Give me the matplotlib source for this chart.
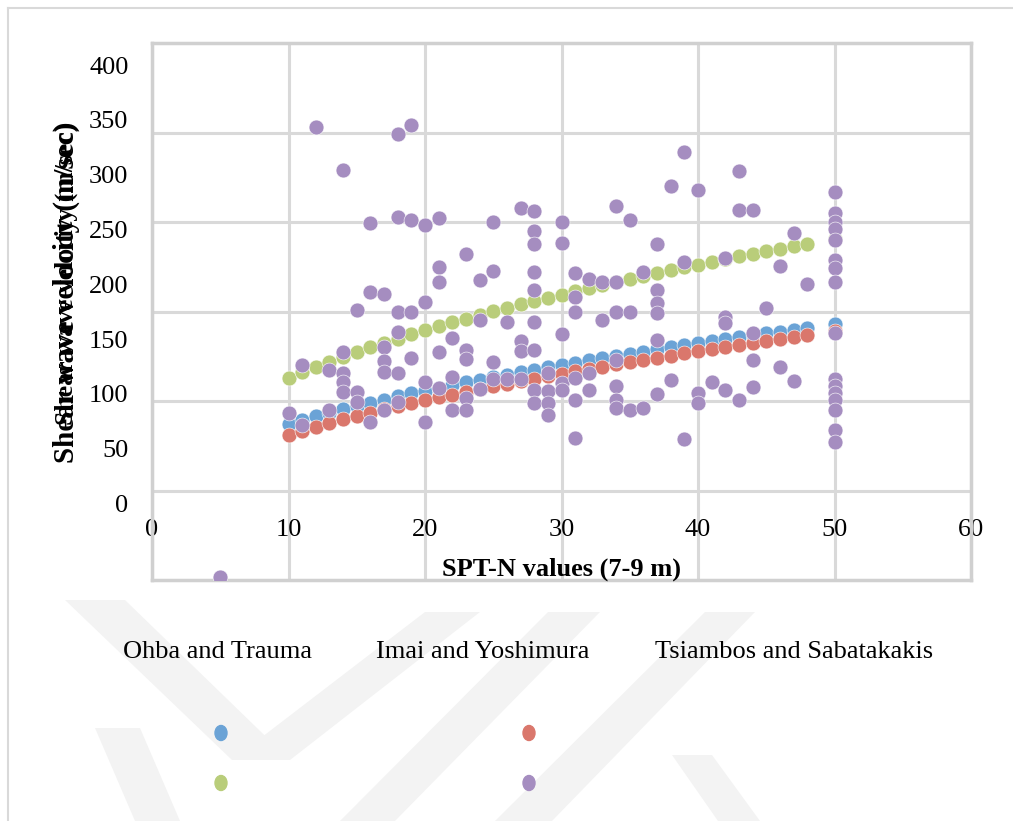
import matplotlib
matplotlib.use("Agg")
import matplotlib.pyplot as plt
from matplotlib.patches import Ellipse, Polygon
from matplotlib.lines import Line2D

# ------ correlation curves, Vs (m/sec) against SPT-N
n_curve = [10, 11, 12, 13, 14, 15, 16, 17, 18, 19, 20, 21, 22, 23, 24, 25, 26, 27, 28, 29,
           30, 31, 32, 33, 34, 35, 36, 37, 38, 39, 40, 41, 42, 43, 44, 45, 46, 47, 48, 50]
vs_ohba = [72.6, 76.2, 79.6, 82.9, 86.1, 89.1, 92.1, 94.9, 97.7, 100.4, 103.1, 105.6, 108.1,
           110.6, 113.0, 115.3, 117.7, 119.9, 122.2, 124.3, 126.5, 128.6, 130.7, 132.7, 134.7,
           136.7, 138.7, 140.6, 142.5, 144.4, 146.2, 148.1, 149.9, 151.7, 153.5, 155.2, 156.9,
           158.7, 160.4, 163.7]
vs_imai = [62.9, 66.6, 70.1, 73.4, 76.7, 79.8, 82.9, 85.8, 88.6, 91.4, 94.2, 96.8, 99.4,
           101.9, 104.4, 106.8, 109.3, 111.6, 113.9, 116.1, 118.4, 120.6, 122.8, 124.8, 126.9,
           129.0, 131.1, 133.1, 135.0, 137.0, 138.9, 140.9, 142.8, 144.6, 146.5, 148.3, 150.1,
           152.0, 153.7, 157.1]
vs_tsiambos = [114.6, 119.8, 124.7, 129.4, 134.0, 138.3, 142.5, 146.6, 150.5, 154.3, 158.0,
               161.7, 165.2, 168.7, 172.0, 175.3, 178.5, 181.7, 184.7, 187.8, 190.7, 193.7,
               196.5, 199.4, 202.2, 204.9, 207.6, 210.2, 212.8, 215.4, 218.0, 220.5, 223.0,
               225.4, 227.8, 230.2, 232.5, 234.9, 237.2, 241.7]

# ------ measured values (one line per N)
n_meas = ([5] + [10] + [11] * 2 + [12] + [13] * 2 + [14] * 5 + [15] * 3 + [16] * 3 + [17] * 5
          + [18] * 6 + [19] * 4 + [20] * 4 + [21] * 5 + [22] * 3 + [23] * 5 + [24] * 3
          + [25] * 4 + [26] * 2 + [27] * 4 + [28] * 9 + [29] * 4 + [30] * 5 + [31] * 6
          + [32] * 3 + [33] * 2 + [34] * 7 + [35] * 3 + [36] * 2 + [37] * 6 + [38] * 2
          + [39] * 3 + [40] * 3 + [41] + [42] * 4 + [43] * 3 + [44] * 4 + [45] + [46] * 2
          + [47] * 2 + [48] + [50] * 16)
vs_meas = [
    -67.0,
    82.6,
    126.4, 71.6,
    343.8,
    121.5, 85.0,
    304.3, 138.5, 118.8, 111.0, 102.0,
    176.5, 102.0, 93.0,
    255.7, 193.2, 74.6,
    191.0, 143.1, 130.0, 120.0, 85.3,
    336.9, 261.1, 175.0, 156.8, 118.8, 92.9,
    345.3, 258.7, 175.0, 132.5,
    254.1, 184.0, 111.1, 74.6,
    260.2, 216.0, 202.0, 138.5, 105.0,
    150.7, 115.0, 85.3,
    227.4, 140.0, 132.0, 96.0, 85.3,
    203.9, 167.4, 104.4,
    257.1, 212.4, 129.4, 113.5,
    165.5, 113.5,
    269.3, 148.4, 139.3, 114.0,
    267.0, 249.0, 237.0, 211.0, 195.0, 165.5, 140.1, 103.6, 91.4,
    119.5, 103.0, 91.4, 80.7,
    257.0, 238.0, 155.0, 110.0, 104.0,
    210.0, 188.0, 175.0, 114.2, 94.4, 59.5,
    205.0, 118.8, 103.6,
    202.4, 167.4,
    271.4, 202.4, 174.3, 130.9, 107.5, 94.4, 86.9,
    258.7, 175.0, 85.0,
    211.2, 87.5,
    236.8, 194.5, 182.7, 173.5, 149.2, 99.8,
    289.7, 112.5,
    321.0, 220.6, 58.5,
    286.0, 101.0, 92.0,
    111.1,
    223.7, 170.4, 164.9, 103.6,
    303.0, 267.8, 94.4,
    267.8, 155.3, 131.0, 106.6,
    178.1,
    216.7, 124.8,
    247.2, 112.0,
    200.5,
    284.5, 264.8, 257.1, 250.5, 240.4, 222.2, 215.0, 202.4, 155.3, 113.5, 106.8, 100.5,
    94.4, 85.3, 67.1, 56.4,
]

legend_names = ["Ohba and Trauma", "Imai and Yoshimura", "Tsiambos and Sabatakakis"]
x_ticks = [0, 10, 20, 30, 40, 50, 60]
y_ticks = [0, 50, 100, 150, 200, 250, 300, 350, 400]

c_blue = "#6ba3d6"
c_red = "#da776c"
c_green = "#b9cd7a"
c_purple = "#a58dc0"
c_grid = "#d9d9d9"
serif = "Liberation Serif"

W, H = 1013, 821
fig = plt.figure(figsize=(W / 100, H / 100), dpi=100)


def px(x, y):
    # pixel position (from top-left) to figure fraction
    return (x / W, 1 - y / H)


# faint background stamp in the lower part of the page
stamp_bands = [
    [(65, 600), (125, 600), (290, 760), (232, 760)],
    [(232, 760), (290, 760), (480, 612), (425, 612)],
    [(95, 728), (140, 728), (180, 821), (135, 821)],
    [(340, 821), (395, 821), (600, 612), (548, 612)],
    [(495, 821), (552, 821), (755, 612), (705, 612)],
    [(672, 755), (712, 755), (760, 821), (718, 821)],
]
for band in stamp_bands:
    fig.add_artist(Polygon([px(x, y) for x, y in band], closed=True,
                           transform=fig.transFigure, color="#f3f3f3", lw=0, zorder=0))

# chart border
fig.add_artist(Line2D([8 / W, 8 / W], [0, 1 - 8 / H], transform=fig.transFigure,
                      color=c_grid, lw=1.5))
fig.add_artist(Line2D([8 / W, 1], [1 - 8 / H, 1 - 8 / H], transform=fig.transFigure,
                      color=c_grid, lw=1.5))

rect = [152 / W, 1 - 580 / H, (971 - 152) / W, (580 - 43) / H]
ax = fig.add_axes(rect)

# horizontal grid sits on its own scale behind the data
grid_ax = ax.twinx()
grid_ax.set_ylim(0, 6)
grid_ax.set_yticks([1, 2, 3, 4, 5])
grid_ax.tick_params(axis="y", length=0, labelright=False)
grid_ax.grid(axis="y", color=c_grid, lw=2.2)
for s in grid_ax.spines.values():
    s.set_visible(False)
grid_ax.set_zorder(ax.get_zorder() - 1)
ax.patch.set_visible(False)

ms = 115
ax.scatter(n_curve, vs_ohba, s=ms, color=c_blue, edgecolors="white", linewidths=0.4,
           zorder=3)
ax.scatter(n_curve, vs_imai, s=ms, color=c_red, edgecolors="white", linewidths=0.4,
           zorder=4)
ax.scatter(n_curve, vs_tsiambos, s=ms, color=c_green, edgecolors="white", linewidths=0.4,
           zorder=5)
ax.scatter(n_meas, vs_meas, s=ms, color=c_purple, edgecolors="white", linewidths=0.4,
           zorder=6)

ax.set_xlim(0, 60)
ax.set_ylim(-69.8, 420.2)
ax.set_xticks(x_ticks)
ax.set_yticks(y_ticks)
ax.grid(axis="x", color=c_grid, lw=2.2)
ax.set_axisbelow(True)
ax.tick_params(axis="both", length=0)
ax.tick_params(axis="y", pad=17, labelsize=19)
ax.tick_params(axis="x", pad=-36, labelsize=19)
for lbl in ax.get_xticklabels():
    lbl.set_va("center")
    lbl.set_family(serif)
for lbl in ax.get_yticklabels():
    lbl.set_family(serif)
for s in ax.spines.values():
    s.set_color("#d0d0d0")
    s.set_linewidth(2.5)

fig.text(*px(561, 569), "SPT-N values (7-9 m)", family=serif, weight="bold",
         fontsize=19, ha="center", va="center")

# the axis title is printed twice, slightly offset
fig.text(*px(66, 463), "Shear wave velocity (m/sec)", family=serif, weight="bold",
         fontsize=21, rotation=90, ha="center", va="bottom")
fig.text(*px(66, 425), "Shear wave velocity (m/sec)", family=serif, weight="bold",
         fontsize=18.5, rotation=90, ha="center", va="bottom")

# legend
for name, xc in zip(legend_names, [217, 483, 794]):
    fig.text(*px(xc, 652), name, family=serif, fontsize=19, ha="center", va="center")
for col, (xc, yc) in zip([c_blue, c_red, c_green, c_purple],
                         [(221, 733), (529, 733), (221, 783), (529, 783)]):
    fig.add_artist(Ellipse(px(xc, yc), 12 / W, 15 / H, transform=fig.transFigure,
                           color=col))

fig.savefig("out.png", dpi=100)
